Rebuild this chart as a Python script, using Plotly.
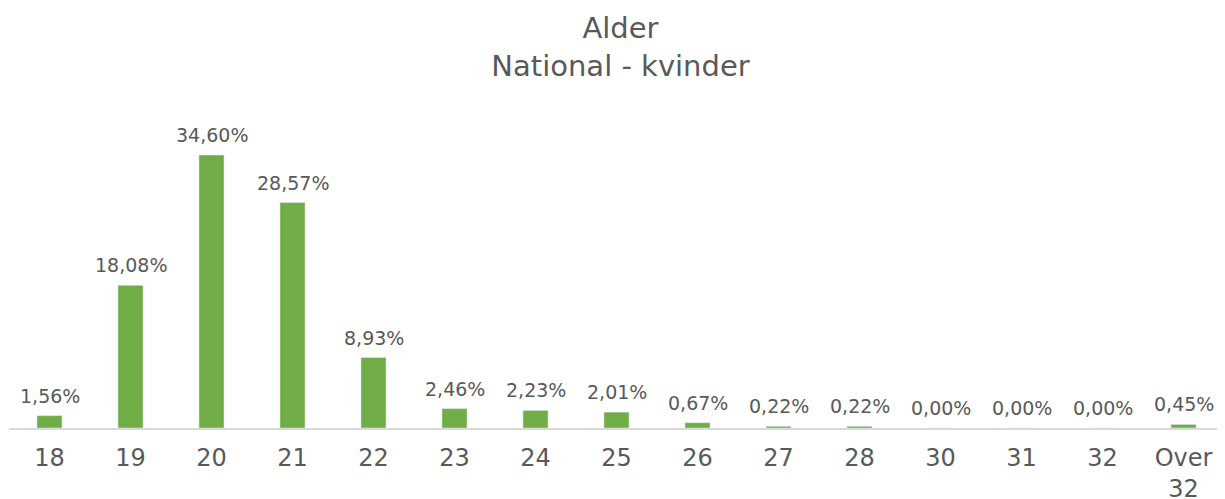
import plotly.graph_objects as go

categories = ["18", "19", "20", "21", "22", "23", "24", "25", "26", "27", "28", "30", "31", "32", "Over<br>32"]
values = [1.56, 18.08, 34.60, 28.57, 8.93, 2.46, 2.23, 2.01, 0.67, 0.22, 0.22, 0.00, 0.00, 0.00, 0.45]

labels = [f"{v:.2f}%".replace(".", ",") for v in values]

fig = go.Figure(go.Bar(
    x=categories, y=values,
    marker=dict(color="#70ad47"),
    hovertext=labels,
))
# category axis: annotation x given as the category index
for i, (v, t) in enumerate(zip(values, labels)):
    fig.add_annotation(x=i, y=v, xref="x", yref="y", text=t, showarrow=False,
                       yanchor="bottom", yshift=7,
                       font=dict(family="DejaVu Sans", size=19, color="#595959"))
fig.update_layout(
    width=1225, height=499,
    margin=dict(l=1, r=9, t=100, b=79),
    paper_bgcolor="white", plot_bgcolor="white",
    bargap=0.69,
    showlegend=False,
    title=dict(text="Alder<br>National - kvinder", x=0.5, xanchor="center", y=0.94, yanchor="top",
               font=dict(family="DejaVu Sans", size=29, color="#595959")),
    font=dict(family="DejaVu Sans", color="#595959"),
)
fig.update_xaxes(type="category", categoryorder="array", categoryarray=categories,
                 range=[-0.5, len(categories) - 0.5],
                 tickangle=0,
                 showline=True, linecolor="#d9d9d9", linewidth=2, ticks="", showgrid=False,
                 ticklabelstandoff=7,
                 tickfont=dict(size=24, color="#595959"))
fig.update_yaxes(range=[0, 40.56], visible=False, showgrid=False, zeroline=False)
fig.write_html("out.html")
